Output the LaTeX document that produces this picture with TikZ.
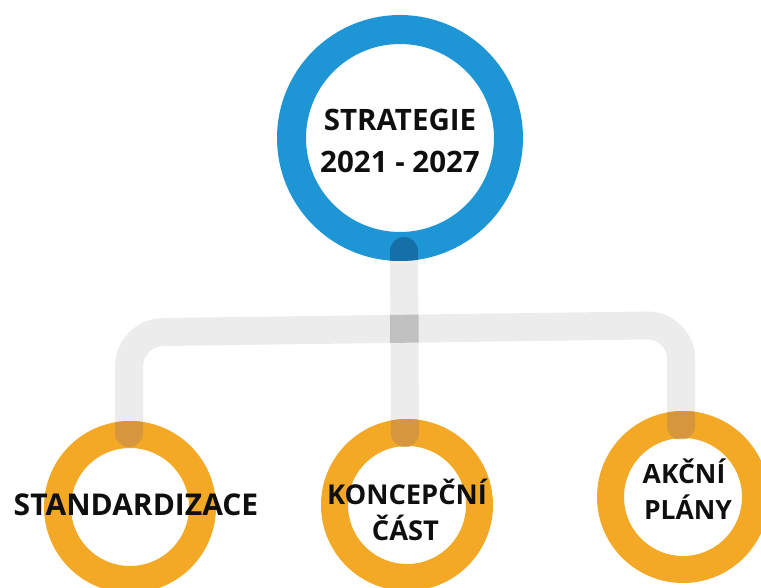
\documentclass[tikz,border=0pt]{standalone}
\usepackage{fontspec}
\setmainfont{Open Sans}
\usetikzlibrary{calc}
\definecolor{ringblue}{RGB}{30,150,214}
\definecolor{ringblueD}{RGB}{22,112,168}
\definecolor{ringorange}{RGB}{243,168,38}
\definecolor{ringorangeD}{RGB}{214,150,60}
\definecolor{connG}{RGB}{236,236,236}
\definecolor{connD}{RGB}{192,192,192}
\definecolor{txt}{RGB}{15,15,15}
\tikzset{
  bluering/.style={circle, draw=ringblue, line width=29pt, minimum size=217pt, inner sep=0pt},
  orangering/.style={circle, draw=ringorange, line width=27pt, minimum size=145pt, inner sep=0pt},
  conn/.style={draw=connG, line width=28pt, line cap=round},
  lbl/.style={font=\bfseries, text=txt, inner sep=0pt, anchor=base},
}
\begin{document}
\begin{tikzpicture}[x=1pt,y=-1pt]
\useasboundingbox (0,0) rectangle (761,588);
% connector points
\coordinate (sa) at (404,251);
\coordinate (sb) at (405,433);
\coordinate (la) at (129,433);
\coordinate (lc) at (129,332.5);
\coordinate (rc) at (681,325);
\coordinate (ra) at (681,426);
% connectors
\draw[conn] (sa) -- (sb);
\draw[conn, rounded corners=34pt] (la) -- (lc) -- (rc) -- (ra);
% junction overlap
\begin{scope}
  \clip (390,300) rectangle (418.5,360);
  \draw[conn, draw=connD, line cap=butt, rounded corners=34pt] (la) -- (lc) -- (rc) -- (ra);
\end{scope}
% rings
\node[bluering] (top) at (400,138) {};
\node[orangering] (left) at (130,507) {};
\node[orangering] (mid) at (407,505) {};
\node[orangering] (right) at (683,497) {};
% overlap patches
\begin{scope}[even odd rule]
  \clip (top.center) circle[radius=123pt] (top.center) circle[radius=94pt];
  \draw[conn, draw=ringblueD] (sa) -- (sb);
\end{scope}
\begin{scope}[even odd rule]
  \clip (left.center) circle[radius=86pt] (left.center) circle[radius=58.5pt]
        (mid.center) circle[radius=86pt] (mid.center) circle[radius=58.5pt]
        (right.center) circle[radius=86pt] (right.center) circle[radius=58.5pt];
  \draw[conn, draw=ringorangeD] (sa) -- (sb);
  \draw[conn, draw=ringorangeD, rounded corners=34pt] (la) -- (lc) -- (rc) -- (ra);
\end{scope}
% labels
\node[lbl, font=\fontsize{29.5}{32}\bfseries] (t1) at (400,131) {STRATEGIE};
\node[lbl, font=\fontsize{29.5}{32}\bfseries] (t2) at (400,173) {2021 - 2027};
\node[lbl, font=\fontsize{30}{32}\bfseries] (t3) at (136,515) {STANDARDIZACE};
\node[lbl, font=\fontsize{27.3}{32}\bfseries] (t4) at (407,504) {KONCEPČNÍ};
\node[lbl, font=\fontsize{27.3}{32}\bfseries] (t5) at (405.5,540) {ČÁST};
\node[lbl, font=\fontsize{26.5}{30}\bfseries] (t6) at (684,483) {AKČNÍ};
\node[lbl, font=\fontsize{26.5}{30}\bfseries] (t7) at (688,519) {PLÁNY};
\end{tikzpicture}
\end{document}
